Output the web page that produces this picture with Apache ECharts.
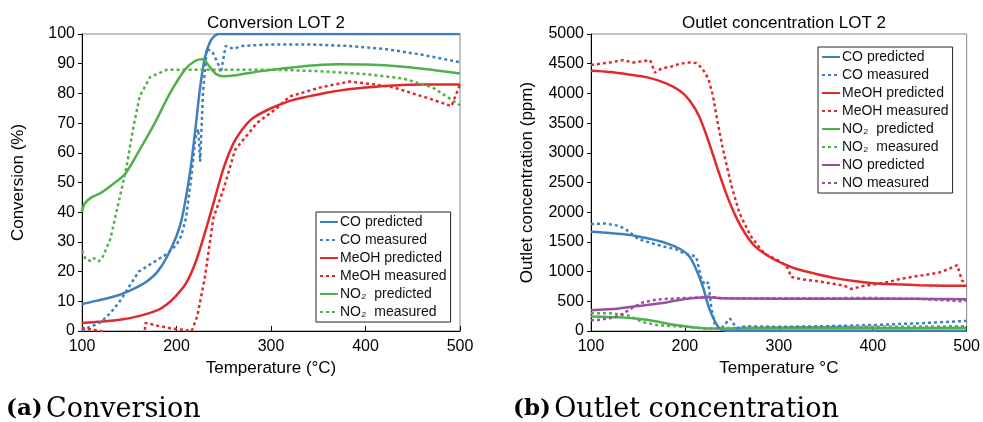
<!DOCTYPE html>
<html>
<head>
<meta charset="utf-8">
<script src="https://cdn.jsdelivr.net/npm/echarts@6/dist/echarts.min.js"></script>
<style>
html,body{margin:0;padding:0;background:#fff;}
#c{width:983px;height:422px;}
</style>
</head>
<body>
<div id="c"></div>
<script>
// ---------- DATA: Conversion LOT 2 (left) ----------
const xTicks = [100, 200, 300, 400, 500];
const convCOPred = [[100,9],[110,9.8],[120,10.5],[130,11.3],[140,12.2],[150,13.5],[160,15],[170,17],[180,20],[190,25],[200,32],[205,37],[210,45],[215,55],[220,68],[225,82],[230,92],[235,97],[240,99.3],[245,100],[300,100],[400,100],[500,100]];
const convCOMeas = [[100,0],[105,1],[110,1.5],[120,3],[130,6],[140,10],[150,15],[160,20],[170,22],[180,24],[190,26],[200,29],[205,32],[210,38],[215,50],[220,65],[223,68],[225,57],[228,80],[232,95],[238,94],[244,90],[247,87],[252,96],[260,95],[270,96],[300,96.5],[340,96.5],[380,96],[420,95],[460,93],[500,90.5]];
const convMeOHPred = [[100,2.7],[120,3.2],[140,3.8],[160,5],[180,7],[190,9],[200,12],[210,16],[220,23],[230,33],[240,44],[250,55],[260,63],[270,68],[280,71.5],[300,75],[320,77.5],[340,79],[360,80.3],[380,81.3],[400,82],[430,82.7],[460,83],[500,83]];
const convMeOHMeas = [[100,1],[110,0.5],[120,0],[130,-2],[150,-3],[166,-2],[167,2.7],[180,1.8],[195,0.8],[205,0.5],[216,0],[222,5],[230,18],[239,38],[250,48],[262,61],[285,70],[306,75],[320,79],[352,82],[383,84],[410,83],[430,82],[450,80],[470,78],[491,75.7],[500,83]];
const convNO2Pred = [[100,40],[103,43],[110,45],[120,46.5],[135,50],[146,53],[161,61],[177,70],[193,80],[209,88],[220,91],[228,91.5],[235,89],[242,86.5],[250,85.8],[260,86],[290,87.5],[330,89],[370,89.8],[400,89.7],[440,89],[470,88],[500,86.7]];
const convNO2Meas = [[100,27],[104,24],[110,23.5],[113,24.5],[118,23.5],[122,25],[130,31],[140,45],[147,55],[154,68],[161,79],[172,85.5],[190,88],[250,88],[300,88],[350,87.5],[400,86.5],[440,85],[471,82],[500,76]];

// ---------- DATA: Outlet concentration LOT 2 (right) ----------
const outCOPred = [[100,1670],[120,1650],[140,1620],[160,1560],[180,1480],[195,1380],[205,1250],[213,1000],[220,700],[225,420],[232,160],[238,30],[245,5],[300,5],[400,5],[500,5]];
const outCOMeas = [[100,1800],[115,1810],[130,1770],[140,1680],[150,1550],[160,1500],[175,1430],[190,1380],[200,1300],[208,1270],[212,1250],[218,850],[222,780],[225,820],[228,400],[232,100],[238,30],[248,210],[255,50],[265,80],[300,70],[350,80],[400,100],[450,130],[500,170]];
const outMeOHPred = [[100,4380],[120,4360],[140,4320],[160,4270],[180,4170],[195,4040],[205,3880],[215,3620],[225,3200],[235,2720],[245,2270],[255,1900],[265,1620],[275,1420],[290,1250],[305,1130],[320,1040],[340,960],[360,890],[380,840],[400,805],[425,785],[450,770],[475,762],[500,760]];
const outMeOHMeas = [[100,4480],[110,4500],[120,4520],[134,4560],[145,4520],[163,4560],[168,4350],[175,4420],[185,4450],[195,4500],[205,4520],[212,4510],[218,4430],[225,4250],[230,3950],[235,3500],[240,3100],[245,2750],[250,2420],[258,1985],[270,1600],[279,1414],[285,1300],[303,1160],[310,1050],[313,910],[325,870],[340,840],[360,790],[370,760],[377,707],[390,760],[400,780],[417,825],[430,880],[450,930],[470,980],[481,1044],[490,1110],[495,850],[500,800]];
const outNO2Pred = [[100,245],[130,230],[150,205],[170,160],[190,100],[210,60],[230,40],[250,40],[300,45],[400,50],[500,55]];
const outNO2Meas = [[100,300],[120,300],[140,260],[155,150],[170,100],[200,70],[225,40],[250,50],[300,60],[400,70],[500,80]];
const outNOPred = [[100,350],[130,380],[150,420],[180,480],[200,540],[225,570],[240,550],[300,545],[400,545],[500,535]];
const outNOMeas = [[100,180],[110,190],[125,230],[135,300],[145,400],[155,480],[170,530],[190,550],[210,560],[225,580],[240,550],[300,550],[400,555],[450,540],[495,500],[500,520]];

const leftNames = ['CO predicted','CO measured','MeOH predicted','MeOH measured','NO\u2082  predicted','NO\u2082  measured'];
const rightNames = ['CO predicted','CO measured','MeOH predicted','MeOH measured','NO\u2082  predicted','NO\u2082  measured','NO predicted','NO measured'];

// ---------- STYLE ----------
const BLUE = '#3d7fbf', RED = '#e02a2a', GREEN = '#50b04a', PURPLE = '#994ea6';
const FONT = 'Liberation Sans';
const DOT = [3, 3];

function mk(name, data, color, dotted, gi) {
  return {
    name: name, type: 'line', data: data, xAxisIndex: gi, yAxisIndex: gi,
    showSymbol: false, symbol: 'none', smooth: dotted ? false : 0.3,
    lineStyle: { color: color, width: 2.5, type: dotted ? DOT : 'solid', cap: 'butt' },
    itemStyle: { color: color }, z: dotted ? 3 : 2, animation: false
  };
}

const series = [
  mk(leftNames[0], convCOPred, BLUE, false, 0),
  mk(leftNames[1], convCOMeas, BLUE, true, 0),
  mk(leftNames[2], convMeOHPred, RED, false, 0),
  mk(leftNames[3], convMeOHMeas, RED, true, 0),
  mk(leftNames[4], convNO2Pred, GREEN, false, 0),
  mk(leftNames[5], convNO2Meas, GREEN, true, 0),
  mk(rightNames[0], outCOPred, BLUE, false, 1),
  mk(rightNames[1], outCOMeas, BLUE, true, 1),
  mk(rightNames[2], outMeOHPred, RED, false, 1),
  mk(rightNames[3], outMeOHMeas, RED, true, 1),
  mk(rightNames[4], outNO2Pred, GREEN, false, 1),
  mk(rightNames[5], outNO2Meas, GREEN, true, 1),
  mk(rightNames[6], outNOPred, PURPLE, false, 1),
  mk(rightNames[7], outNOMeas, PURPLE, true, 1)
];

function xAx(gi, name) {
  return {
    type: 'value', gridIndex: gi, min: 100, max: 500, interval: 100,
    name: name, nameLocation: 'middle', nameGap: 27,
    nameTextStyle: { fontFamily: FONT, fontSize: 17, color: '#000' },
    axisLine: { show: true, lineStyle: { color: '#000', width: 1 } },
    axisTick: { show: true, inside: true, length: 5, lineStyle: { color: '#000' } },
    axisLabel: { fontFamily: FONT, fontSize: 16, color: '#000', margin: 8 },
    splitLine: { show: false }
  };
}
function yAx(gi, name, max, interval, gap) {
  return {
    type: 'value', gridIndex: gi, min: 0, max: max, interval: interval,
    name: name, nameLocation: 'middle', nameGap: gap,
    nameTextStyle: { fontFamily: FONT, fontSize: 17, color: '#000' },
    axisLine: { show: true, lineStyle: { color: '#000', width: 1 } },
    axisTick: { show: true, length: 4, lineStyle: { color: '#000' } },
    axisLabel: { fontFamily: FONT, fontSize: 16, color: '#000', margin: 7, formatter: function (v) { return String(v); } },
    splitLine: { show: false }
  };
}
function leg(names, left, top) {
  return {
    data: names, orient: 'vertical', left: left, top: top,
    itemWidth: 18, itemHeight: 10, itemGap: 4, padding: [3, 4, 3, 3],
    borderColor: '#222', borderWidth: 1, backgroundColor: '#fff', borderRadius: 0,
    itemStyle: { opacity: 0 },
    textStyle: { fontFamily: FONT, fontSize: 14, color: '#111', padding: [0, 0, 0, -3] },
    selectedMode: false
  };
}

const option = {
  backgroundColor: '#fff',
  animation: false,
  title: [
    { text: 'Conversion LOT 2', left: 271, top: 10, textAlign: 'center',
      textStyle: { fontFamily: FONT, fontSize: 17, fontWeight: 'normal', color: '#000' } },
    { text: 'Outlet concentration LOT 2', left: 779, top: 10, textAlign: 'center',
      textStyle: { fontFamily: FONT, fontSize: 17, fontWeight: 'normal', color: '#000' } }
  ],
  grid: [
    { left: 82, top: 34, width: 378, height: 297, show: true, borderColor: '#888', borderWidth: 1, backgroundColor: 'transparent' },
    { left: 591, top: 34, width: 377, height: 297, show: true, borderColor: '#888', borderWidth: 1, backgroundColor: 'transparent' }
  ],
  xAxis: [xAx(0, 'Temperature (\u00B0C)'), xAx(1, 'Temperature \u00B0C')],
  yAxis: [yAx(0, 'Conversion (%)', 100, 10, 55), yAx(1, 'Outlet concentration (ppm)', 5000, 500, 55)],
  legend: [leg(leftNames, 316, 212), leg(rightNames, 818, 47)],
  series: series,
  graphic: [
    { type: 'text', left: 6, top: 396, style: { rich: {
        b: { fontFamily: 'DejaVu Serif', fontWeight: 'bold', fontSize: 23, fill: '#000' },
        n: { fontFamily: 'DejaVu Serif', fontSize: 27, fill: '#000' } },
        text: '{b|(a)} {n|Conversion}' } },
    { type: 'text', left: 513, top: 396, style: { rich: {
        b: { fontFamily: 'DejaVu Serif', fontWeight: 'bold', fontSize: 23, fill: '#000' },
        n: { fontFamily: 'DejaVu Serif', fontSize: 27, fill: '#000' } },
        text: '{b|(b)} {n|Outlet concentration}' } }
  ]
};

const chart = echarts.init(document.getElementById('c'), null, { renderer: 'canvas' });
chart.setOption(option);
</script>
</body>
</html>
